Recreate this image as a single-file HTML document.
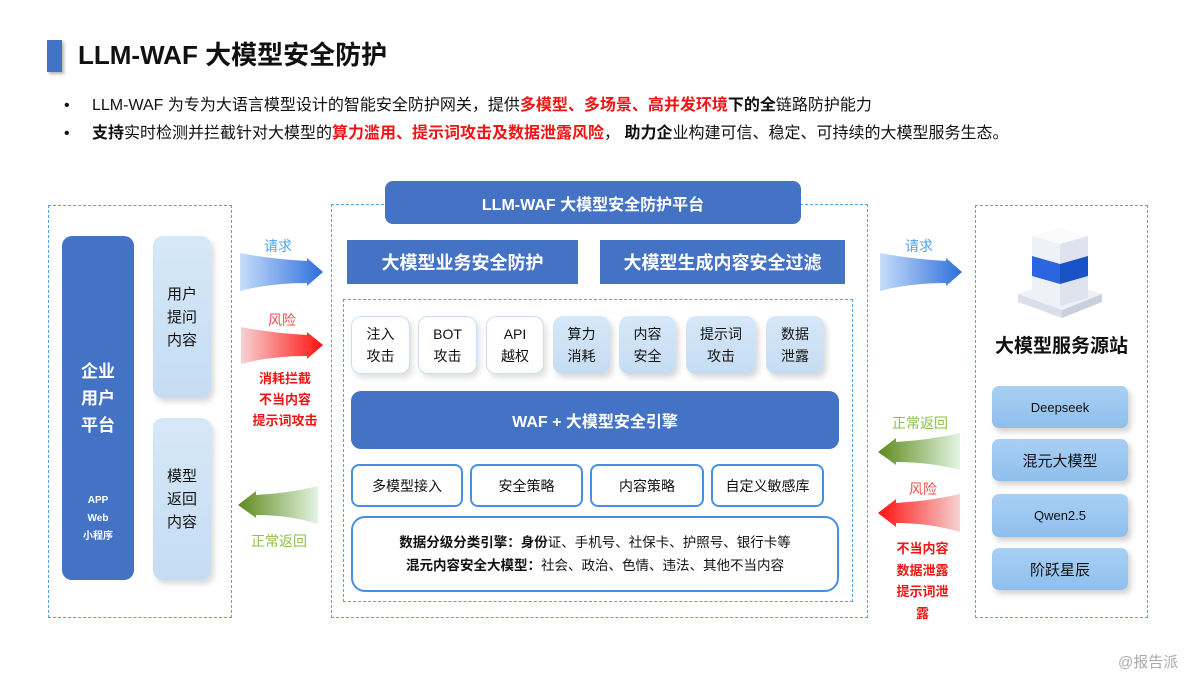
<!DOCTYPE html>
<html><head><meta charset="utf-8"><style>
*{margin:0;padding:0;box-sizing:border-box}
body{width:1200px;height:675px;background:#fff;position:relative;overflow:hidden;font-family:"Liberation Sans","Noto Sans CJK SC",sans-serif;color:#111}
.a{position:absolute}
.c{display:flex;align-items:center;justify-content:center;text-align:center}
.dash{border:1.5px dashed #4da3f0}
.blue{background:#4472c4;color:#fff;font-weight:bold}
.lt{background:linear-gradient(#d6e8f8,#c5dcf2);border-radius:10px;box-shadow:3px 4px 6px rgba(0,0,0,.15);font-size:15px;line-height:23px}
.wh{background:#fff;border:1.5px solid #c9def4;border-radius:10px;box-shadow:3px 4px 6px rgba(0,0,0,.12);font-size:14px;line-height:22px}
.ob{background:#fff;border:2px solid #4a90e2;border-radius:8px;font-size:15px}
.mb{background:linear-gradient(#a9d0f5,#8fbfec);border-radius:7px;box-shadow:3px 4px 6px rgba(0,0,0,.18);font-size:15px}
.red{color:#f01515}
.lbl{font-size:14px}
</style></head><body>
<div class="a" style="left:47px;top:40px;width:15px;height:32px;background:#4472c4;box-shadow:2px 2px 3px rgba(0,0,0,.3)"></div>
<div class="a" style="left:78px;top:38px;font-size:26px;font-weight:bold;line-height:34px">LLM-WAF 大模型安全防护</div>
<div class="a" style="left:64px;top:95px;font-size:16px;line-height:22px">•</div>
<div class="a" style="left:92px;top:95px;font-size:16px;line-height:22px">LLM-WAF 为专为大语言模型设计的智能安全防护网关，提供<b class="red">多模型、多场景、高并发环境</b><b>下的全</b>链路防护能力</div>
<div class="a" style="left:64px;top:123px;font-size:16px;line-height:22px">•</div>
<div class="a" style="left:92px;top:123px;font-size:16px;line-height:22px"><b>支持</b>实时检测并拦截针对大模型的<b class="red">算力滥用、提示词攻击及数据泄露风险</b>，&nbsp;<b>助力企</b>业构建可信、稳定、可持续的大模型服务生态。</div>

<!-- left -->
<div class="a dash" style="left:48px;top:205px;width:184px;height:413px"></div>
<div class="a blue" style="left:62px;top:236px;width:72px;height:344px;border-radius:10px"></div>
<div class="a" style="left:62px;top:358px;width:72px;text-align:center;color:#fff;font-weight:bold;font-size:17px;line-height:27px">企业<br>用户<br>平台</div>
<div class="a" style="left:62px;top:492px;width:72px;text-align:center;color:#fff;font-weight:bold;font-size:10px;line-height:18px">APP<br>Web<br>小程序</div>
<div class="a lt c" style="left:153px;top:236px;width:58px;height:162px">用户<br>提问<br>内容</div>
<div class="a lt c" style="left:153px;top:418px;width:58px;height:162px">模型<br>返回<br>内容</div>

<!-- center -->
<div class="a dash" style="left:331px;top:204px;width:537px;height:414px"></div>
<div class="a blue c" style="left:385px;top:181px;width:416px;height:43px;border-radius:8px;font-size:16px">LLM-WAF 大模型安全防护平台</div>
<div class="a blue c" style="left:347px;top:240px;width:231px;height:44px;font-size:18px">大模型业务安全防护</div>
<div class="a blue c" style="left:600px;top:240px;width:245px;height:44px;font-size:18px">大模型生成内容安全过滤</div>
<div class="a dash" style="left:343px;top:299px;width:510px;height:303px"></div>
<div class="a wh c" style="left:351px;top:316px;width:59px;height:58px">注入<br>攻击</div>
<div class="a wh c" style="left:418px;top:316px;width:59px;height:58px">BOT<br>攻击</div>
<div class="a wh c" style="left:486px;top:316px;width:58px;height:58px">API<br>越权</div>
<div class="a lt c" style="left:553px;top:316px;width:57px;height:58px;font-size:14px;line-height:22px">算力<br>消耗</div>
<div class="a lt c" style="left:619px;top:316px;width:57px;height:58px;font-size:14px;line-height:22px">内容<br>安全</div>
<div class="a lt c" style="left:686px;top:316px;width:70px;height:58px;font-size:14px;line-height:22px">提示词<br>攻击</div>
<div class="a lt c" style="left:766px;top:316px;width:58px;height:58px;font-size:14px;line-height:22px">数据<br>泄露</div>
<div class="a blue c" style="left:351px;top:391px;width:488px;height:58px;border-radius:10px;font-size:16px">WAF + 大模型安全引擎</div>
<div class="a ob c" style="left:351px;top:464px;width:112px;height:43px;font-size:14px">多模型接入</div>
<div class="a ob c" style="left:470px;top:464px;width:113px;height:43px;font-size:14px">安全策略</div>
<div class="a ob c" style="left:590px;top:464px;width:114px;height:43px;font-size:14px">内容策略</div>
<div class="a ob c" style="left:711px;top:464px;width:113px;height:43px;font-size:14px">自定义敏感库</div>
<div class="a ob c" style="left:351px;top:516px;width:488px;height:76px;border-radius:14px;font-size:13.5px;line-height:23px"><div><b>数据分级分类引擎：身份</b>证、手机号、社保卡、护照号、银行卡等<br><b>混元内容安全大模型：</b>社会、政治、色情、违法、其他不当内容</div></div>

<!-- right -->
<div class="a dash" style="left:975px;top:205px;width:173px;height:413px"></div>
<svg class="a" style="left:1010px;top:222px" width="100" height="100" viewBox="0 0 100 100">
<path d="M8 72 L48 58 L92 72 L52 88Z" fill="#eef1f7"/>
<path d="M8 72 L52 88 L52 96 L8 80Z" fill="#d9deea"/>
<path d="M52 88 L92 72 L92 80 L52 96Z" fill="#c9cfdd"/>
<path d="M22 14 L50 6 L78 14 L50 22Z" fill="#fafbfd"/>
<path d="M22 14 L50 22 L50 84 L22 76Z" fill="#eef1f7"/>
<path d="M50 22 L78 14 L78 76 L50 84Z" fill="#dfe3ee"/>
<path d="M22 34 L50 42 L50 62 L22 54Z" fill="#2a66e0"/>
<path d="M50 42 L78 34 L78 54 L50 62Z" fill="#1a52c8"/>
</svg>
<div class="a" style="left:975px;top:333px;width:173px;text-align:center;font-size:19px;font-weight:bold;line-height:28px">大模型服务源站</div>
<div class="a mb c" style="left:992px;top:386px;width:136px;height:42px;font-size:13px">Deepseek</div>
<div class="a mb c" style="left:992px;top:439px;width:136px;height:42px">混元大模型</div>
<div class="a mb c" style="left:992px;top:494px;width:136px;height:43px;font-size:13px">Qwen2.5</div>
<div class="a mb c" style="left:992px;top:548px;width:136px;height:42px">阶跃星辰</div>

<!-- arrows -->
<svg class="a" style="left:0;top:0" width="1200" height="675">
<defs>
<linearGradient id="gb" x1="0" x2="1"><stop offset="0" stop-color="#c7ddfb"/><stop offset="1" stop-color="#2c6fdb"/></linearGradient>
<linearGradient id="gr" x1="0" x2="1"><stop offset="0" stop-color="#f6d2d2"/><stop offset="1" stop-color="#ff1010"/></linearGradient>
<linearGradient id="grl" x1="1" x2="0"><stop offset="0" stop-color="#f6d2d2"/><stop offset="1" stop-color="#ff1010"/></linearGradient>
<linearGradient id="gg" x1="1" x2="0"><stop offset="0" stop-color="#e4f4e4"/><stop offset="1" stop-color="#5e8a1c"/></linearGradient>
</defs>
<path d="M240 253 Q270 259 307 261 L307 258 L323 272 L307 286 L307 283 Q270 283 240 291Z" fill="url(#gb)"/>
<path d="M241 327 Q270 333 307 335 L307 332 L323 345 L307 359 L307 356 Q270 356 241 364Z" fill="url(#gr)"/>
<path d="M318 486 Q290 493 256 495 L256 491 L238 505 L256 518 L256 515 Q290 515 318 524Z" fill="url(#gg)"/>
<path d="M880 253 Q910 259 946 261 L946 258 L962 272 L946 286 L946 283 Q910 283 880 291Z" fill="url(#gb)"/>
<path d="M960 433 Q930 440 896 442 L896 438 L878 452 L896 465 L896 462 Q930 462 960 470Z" fill="url(#gg)"/>
<path d="M960 494 Q930 501 896 503 L896 499 L878 513 L896 527 L896 523 Q930 523 960 532Z" fill="url(#grl)"/>
</svg>
<div class="a lbl" style="left:264px;top:236px;color:#4da3f0">请求</div>
<div class="a lbl" style="left:268px;top:310px;color:#f05050">风险</div>
<div class="a" style="left:240px;top:368px;width:90px;text-align:center;color:#f01515;font-weight:bold;font-size:13px;line-height:21px">消耗拦截<br>不当内容<br>提示词攻击</div>
<div class="a lbl" style="left:251px;top:531px;color:#8cc04a">正常返回</div>
<div class="a lbl" style="left:905px;top:236px;color:#4da3f0">请求</div>
<div class="a lbl" style="left:892px;top:413px;color:#8cc04a">正常返回</div>
<div class="a lbl" style="left:909px;top:479px;color:#f05050">风险</div>
<div class="a" style="left:880px;top:538px;width:85px;text-align:center;color:#f01515;font-weight:bold;font-size:13px;line-height:21.5px">不当内容<br>数据泄露<br>提示词泄<br>露</div>
<div class="a" style="left:1118px;top:651px;color:#aaa;font-size:15px">@报告派</div>
</body></html>
